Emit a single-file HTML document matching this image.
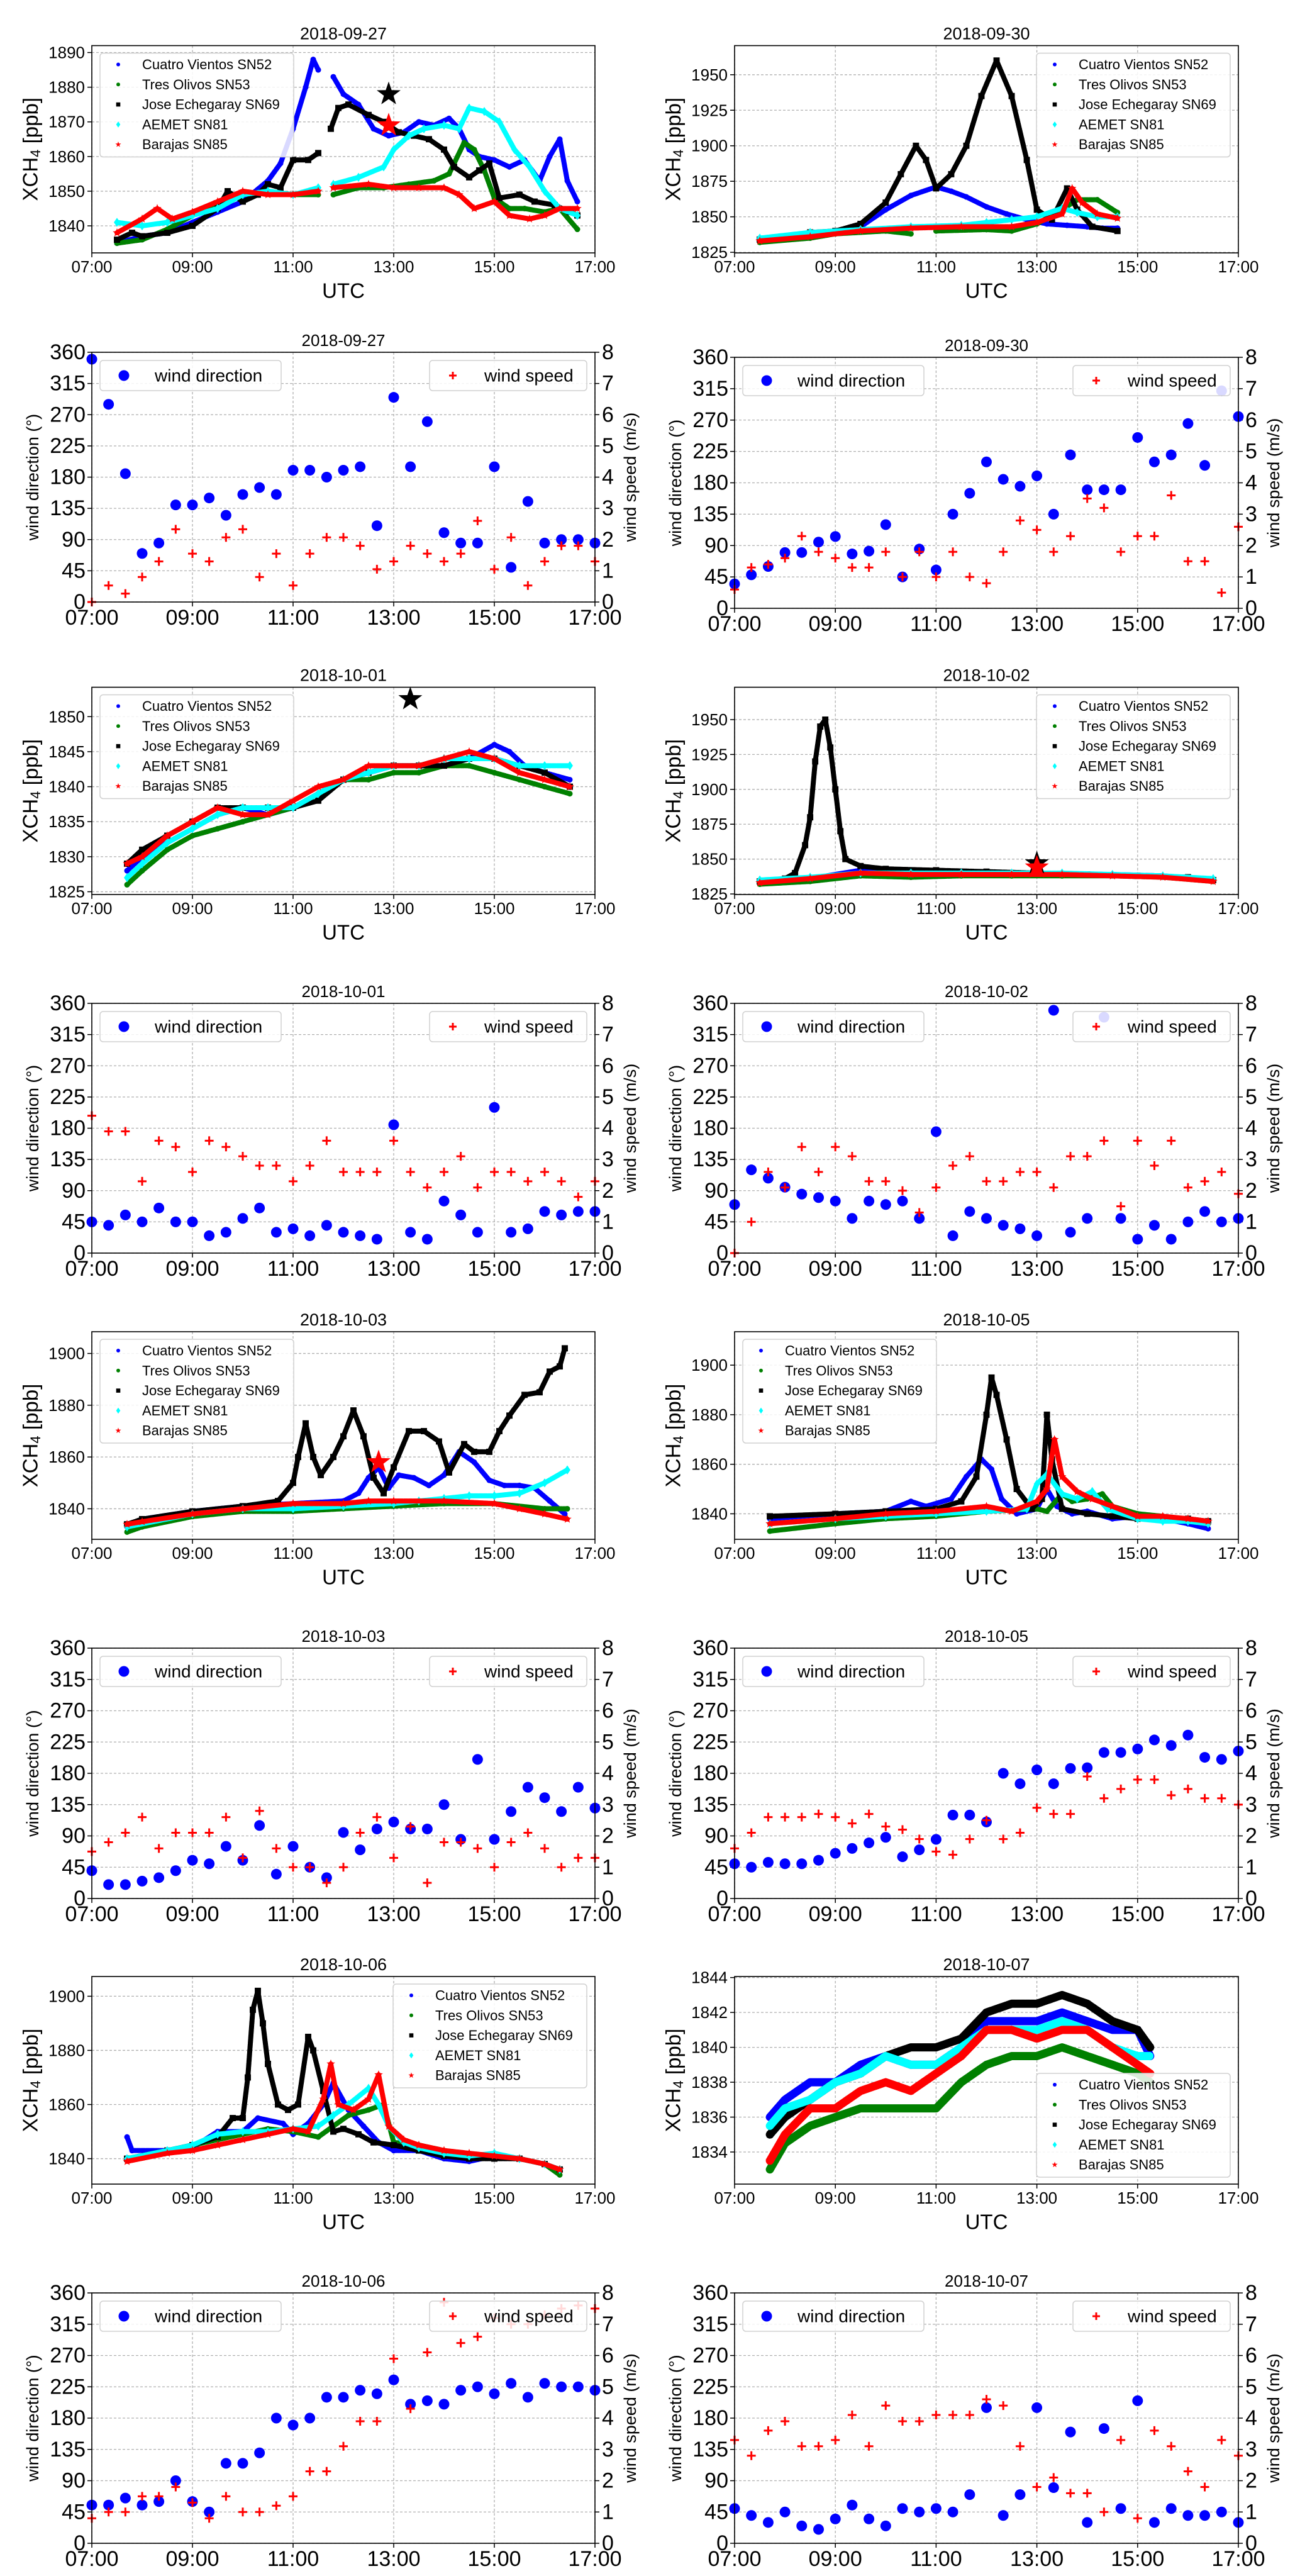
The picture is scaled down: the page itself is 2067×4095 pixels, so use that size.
<!DOCTYPE html>
<html><head><meta charset="utf-8"><style>
html,body{margin:0;padding:0;background:#fff;}
svg{display:block;font-family:"Liberation Sans","DejaVu Sans",sans-serif;}
</style></head><body>
<svg id="fig" width="2067" height="4095" viewBox="0 0 2067 4095" xmlns="http://www.w3.org/2000/svg"></svg>
<script>
// ---------- wind data (20-min steps from 07:00 to 17:00) ----------
const windTimes = [7,7.333,7.667,8,8.333,8.667,9,9.333,9.667,10,10.333,10.667,11,11.333,11.667,12,12.333,12.667,13,13.333,13.667,14,14.333,14.667,15,15.333,15.667,16,16.333,16.667,17];
const dir_0927 = [350,285,185,70,85,140,140,150,125,155,165,155,190,190,180,190,195,110,295,195,260,100,85,85,195,50,145,85,90,90,85];
const spd_0927 = [0,0.53,0.27,0.8,1.3,2.33,1.55,1.3,2.07,2.33,0.8,1.55,0.53,1.55,2.07,2.07,1.8,1.05,1.3,1.8,1.55,1.3,1.55,2.6,1.05,2.07,0.53,1.3,1.8,1.8,1.3];
const dir_0930 = [35,48,60,80,80,95,103,78,82,120,45,85,55,135,165,210,185,175,190,135,220,170,170,170,245,210,220,265,205,312,275];
const spd_0930 = [0.6,1.3,1.4,1.6,2.3,1.8,1.6,1.3,1.3,1.8,1.0,1.8,1.0,1.8,1.0,0.8,1.8,2.8,2.5,1.8,2.3,3.5,3.2,1.8,2.3,2.3,3.6,1.5,1.5,0.5,2.6];
const dir_1001 = [45,40,55,45,65,45,45,25,30,50,65,30,35,25,40,30,25,20,185,30,20,75,55,30,210,30,35,60,55,60,60];
const spd_1001 = [4.4,3.9,3.9,2.3,3.6,3.4,2.6,3.6,3.4,3.1,2.8,2.8,2.3,2.8,3.6,2.6,2.6,2.6,3.6,2.6,2.1,2.6,3.1,2.1,2.6,2.6,2.3,2.6,2.3,1.8,2.3];
const dir_1002 = [70,120,108,95,85,80,75,50,75,70,75,50,175,25,60,50,40,35,25,350,30,50,340,50,20,40,20,45,60,45,50];
const spd_1002 = [0,1.0,2.6,2.1,3.4,2.6,3.4,3.1,2.3,2.3,2.0,1.3,2.1,2.8,3.1,2.3,2.3,2.6,2.6,2.1,3.1,3.1,3.6,1.5,3.6,2.8,3.6,2.1,2.3,2.6,1.9];
const dir_1003 = [40,20,20,25,30,40,55,50,75,55,105,35,75,45,30,95,70,100,110,100,100,135,85,200,85,125,160,145,125,160,130];
const spd_1003 = [1.5,1.8,2.1,2.6,1.6,2.1,2.1,2.1,2.6,1.3,2.8,1.6,1.0,1.0,0.5,1.0,2.1,2.6,1.3,2.3,0.5,1.8,1.8,1.6,1.0,1.8,2.1,1.6,1.0,1.3,1.3];
const dir_1005 = [50,45,52,50,50,55,65,72,80,88,60,70,85,120,120,110,180,165,185,165,187,188,210,210,215,228,220,235,203,200,212];
const spd_1005 = [1.6,2.1,2.6,2.6,2.6,2.7,2.6,2.4,2.7,2.3,2.2,1.9,1.5,1.4,1.9,2.5,1.9,2.1,2.9,2.7,2.7,3.9,3.2,3.5,3.8,3.8,3.3,3.5,3.2,3.2,3.0];
const dir_1006 = [55,55,65,55,60,90,60,45,115,115,130,180,170,180,210,210,220,215,235,200,205,200,220,225,215,230,210,230,225,225,220];
const spd_1006 = [0.8,1.0,1.0,1.5,1.5,1.8,1.3,0.8,1.5,1.0,1.0,1.2,1.5,2.3,2.3,3.1,3.9,3.9,5.9,4.3,6.1,7.7,6.4,6.6,7.2,7.0,7.0,7.3,7.5,7.6,7.5];
const dir_1007 = [50,40,30,45,25,20,35,55,35,25,50,45,50,45,70,195,40,70,195,80,160,30,165,50,205,30,50,40,40,45,30];
const spd_1007 = [3.3,2.8,3.6,3.9,3.1,3.1,3.3,4.1,3.1,4.4,3.9,3.9,4.1,4.1,4.1,4.6,4.4,3.1,1.8,2.1,1.6,1.6,1.0,3.3,0.8,3.6,3.1,2.3,1.8,3.3,2.8];

// ---------- XCH4 data: [hour UTC, ppb]; null = gap ----------
const cv_0927 = [[7.5,1835],[8,1837],[8.5,1838],[9,1841],[9.5,1844],[10,1847],[10.5,1853],[10.75,1858],[11,1868],[11.25,1880],[11.4,1888],[11.5,1885],null,[11.8,1883],[12,1878],[12.3,1875],[12.6,1868],[12.9,1866],[13.2,1867],[13.5,1870],[13.8,1869],[14.1,1871],[14.3,1868],[14.5,1862],[14.7,1860],[15,1859],[15.3,1857],[15.6,1859],[15.9,1853],[16.1,1860],[16.3,1865],[16.45,1853],[16.65,1847]];
const to_0927 = [[7.5,1835],[8,1836],[8.5,1839],[9,1843],[9.5,1846],[10,1849],[10.5,1850],[11,1849],[11.5,1849],null,[11.8,1849],[12.3,1851],[12.8,1851],[13.3,1852],[13.8,1853],[14.1,1855],[14.4,1864],[14.6,1862],[14.8,1856],[15,1848],[15.3,1845],[15.6,1845],[16,1844],[16.3,1845],[16.65,1839]];
const je_0927 = [[7.5,1836],[7.8,1838],[8,1837],[8.5,1838],[9,1840],[9.5,1845],[9.7,1850],[10,1847],[10.3,1849],[10.5,1852],[10.75,1851],[11,1859],[11.3,1859],[11.5,1861],null,[11.75,1868],[11.9,1874],[12.1,1875],[12.5,1872],[12.8,1870],[13.1,1867],[13.4,1866],[13.7,1865],[14,1862],[14.2,1857],[14.5,1854],[14.7,1856],[14.9,1858],[15.1,1848],[15.5,1849],[15.8,1847],[16.2,1846],[16.5,1844],[16.65,1843]];
const ae_0927 = [[7.5,1841],[8,1840],[8.5,1841],[9,1843],[9.5,1845],[10,1849],[10.5,1850],[11,1849],[11.5,1851],null,[11.8,1852],[12.3,1854],[12.8,1857],[13,1862],[13.3,1866],[13.6,1868],[14,1869],[14.3,1868],[14.5,1874],[14.8,1873],[15.1,1870],[15.4,1862],[15.7,1857],[16,1850],[16.3,1845],[16.65,1843]];
const ba_0927 = [[7.5,1838],[8,1842],[8.3,1845],[8.6,1842],[9,1844],[9.5,1847],[10,1850],[10.5,1849],[11,1849],[11.5,1850],null,[11.8,1851],[12.5,1852],[13,1851],[13.5,1851],[14,1851],[14.3,1849],[14.6,1845],[15,1847],[15.3,1843],[15.7,1842],[16,1843],[16.3,1845],[16.65,1845]];

const cv_0930 = [[7.5,1834],[8.5,1838],[9,1840],[9.5,1843],[10,1855],[10.5,1865],[11,1871],[11.3,1868],[11.6,1864],[12,1857],[12.4,1852],[12.8,1848],[13.2,1845],[13.6,1844],[14,1843],[14.3,1842],[14.6,1842]];
const to_0930 = [[7.5,1832],[8.5,1835],[9,1838],[10,1840],[10.5,1838],null,[11,1840],[12,1841],[12.5,1840],[13,1845],[13.5,1855],[13.8,1862],[14.2,1862],[14.6,1853]];
const je_0930 = [[7.5,1834],[8,1836],[8.5,1839],[9,1840],[9.5,1845],[10,1860],[10.3,1880],[10.6,1900],[10.8,1890],[11,1870],[11.3,1880],[11.6,1900],[11.9,1935],[12.2,1960],[12.5,1935],[12.8,1890],[13,1855],[13.3,1848],[13.6,1870],[13.8,1855],[14.1,1843],[14.6,1840]];
const ae_0930 = [[7.5,1835],[8.5,1839],[9.5,1841],[10.5,1843],[11.5,1844],[12,1846],[12.5,1848],[13,1850],[13.5,1856],[13.8,1853],[14.2,1850],[14.6,1850]];
const ba_0930 = [[7.5,1833],[8.5,1836],[9.5,1840],[10.5,1842],[11.5,1843],[12.5,1843],[13,1846],[13.5,1852],[13.7,1870],[13.9,1860],[14.2,1852],[14.6,1849]];

const cv_1001 = [[7.7,1828],[8,1830],[8.5,1832],[9,1834],[9.5,1836],[10,1837],[10.5,1836],[11,1837],[11.5,1839],[12,1841],[12.5,1842],[13,1843],[13.5,1843],[14,1843],[14.5,1844],[15,1846],[15.3,1845],[15.6,1843],[16,1842],[16.5,1841]];
const to_1001 = [[7.7,1826],[8,1828],[8.5,1831],[9,1833],[9.5,1834],[10,1835],[10.5,1836],[11,1837],[11.5,1839],[12,1841],[12.5,1841],[13,1842],[13.5,1842],[14,1843],[14.5,1843],[15,1842],[15.5,1841],[16,1840],[16.5,1839]];
const je_1001 = [[7.7,1829],[8,1831],[8.5,1833],[9,1835],[9.5,1837],[10,1837],[10.5,1837],[11,1837],[11.5,1838],[12,1841],[12.5,1842],[13,1843],[13.5,1843],[14,1843],[14.5,1844],[15,1844],[15.5,1843],[16,1842],[16.5,1840]];
const ae_1001 = [[7.7,1827],[8,1829],[8.5,1832],[9,1834],[9.5,1836],[10,1837],[10.5,1837],[11,1837],[11.5,1839],[12,1841],[12.5,1842],[13,1843],[13.5,1843],[14,1844],[14.5,1844],[15,1844],[15.5,1843],[16,1843],[16.5,1843]];
const ba_1001 = [[7.7,1829],[8,1830],[8.5,1833],[9,1835],[9.5,1837],[10,1836],[10.5,1836],[11,1838],[11.5,1840],[12,1841],[12.5,1843],[13,1843],[13.5,1843],[14,1844],[14.5,1845],[15,1844],[15.5,1842],[16,1841],[16.5,1840]];

const cv_1002 = [[7.5,1834],[8.5,1836],[9.5,1842],[10.5,1842],[11.5,1841],[12.5,1840],[13.5,1839],[14.5,1839],[15.5,1838],[16.5,1835]];
const to_1002 = [[7.5,1832],[8.5,1834],[9.5,1838],[10.5,1837],[11.5,1838],[12.5,1838],[13.5,1838],[14.5,1838],[15.5,1837],[16.5,1834]];
const je_1002 = [[7.5,1834],[8,1836],[8.2,1840],[8.4,1860],[8.5,1880],[8.6,1920],[8.7,1945],[8.8,1950],[8.9,1930],[9,1900],[9.1,1870],[9.2,1850],[9.5,1845],[10,1843],[11,1842],[12,1841],[13,1840],[14,1839],[15,1838],[16,1837],[16.5,1835]];
const ae_1002 = [[7.5,1835],[8.5,1837],[9.5,1840],[10.5,1840],[11.5,1840],[12.5,1840],[13.5,1840],[14.5,1839],[15.5,1838],[16.5,1836]];
const ba_1002 = [[7.5,1833],[8.5,1836],[9.5,1840],[10.5,1839],[11.5,1839],[12.5,1839],[13.5,1839],[14.5,1838],[15.5,1837],[16.5,1834]];

const cv_1003 = [[7.7,1833],[8,1836],[9,1839],[10,1841],[11,1842],[12,1843],[12.3,1846],[12.5,1852],[12.7,1856],[12.9,1848],[13.1,1853],[13.4,1852],[13.7,1849],[14,1853],[14.3,1862],[14.6,1858],[14.9,1851],[15.2,1849],[15.5,1849],[15.8,1848],[16.1,1843],[16.4,1838]];
const to_1003 = [[7.7,1831],[8,1833],[9,1837],[10,1839],[11,1839],[12,1840],[13,1841],[14,1842],[15,1842],[16,1840],[16.45,1840]];
const je_1003 = [[7.7,1834],[8,1836],[9,1839],[10,1841],[10.7,1843],[11,1850],[11.1,1860],[11.25,1873],[11.4,1860],[11.55,1853],[11.8,1860],[12,1868],[12.2,1878],[12.4,1868],[12.6,1852],[12.8,1846],[13,1856],[13.3,1870],[13.6,1870],[13.9,1866],[14.1,1854],[14.4,1865],[14.6,1862],[14.9,1862],[15.1,1870],[15.3,1876],[15.6,1884],[15.9,1885],[16.1,1893],[16.3,1895],[16.4,1902]];
const ae_1003 = [[7.7,1833],[9,1838],[10,1840],[11,1840],[12,1841],[13,1842],[13.5,1843],[14,1844],[14.5,1845],[15,1845],[15.5,1846],[16,1850],[16.45,1855]];
const ba_1003 = [[7.7,1834],[8,1835],[9,1838],[10,1840],[11,1842],[12,1842],[12.5,1843],[13,1843],[14,1843],[15,1842],[15.5,1840],[16,1838],[16.45,1836]];

const cv_1005 = [[7.7,1838],[9,1840],[10,1841],[10.5,1845],[10.8,1843],[11.3,1846],[11.6,1855],[11.9,1862],[12.1,1858],[12.3,1846],[12.6,1840],[13,1842],[13.2,1850],[13.4,1843],[13.7,1840],[14,1841],[14.5,1838],[15,1839],[15.5,1838],[16,1836],[16.4,1834]];
const to_1005 = [[7.7,1833],[9,1836],[10,1838],[11,1839],[12,1841],[13,1842],[13.2,1841],[13.5,1848],[13.7,1845],[14,1846],[14.3,1848],[14.5,1843],[15,1840],[15.5,1839],[16,1837],[16.4,1836]];
const je_1005 = [[7.7,1839],[9,1840],[10,1841],[11,1842],[11.5,1845],[11.8,1855],[12,1880],[12.1,1895],[12.2,1888],[12.4,1870],[12.6,1850],[12.9,1842],[13.1,1846],[13.2,1880],[13.3,1862],[13.5,1842],[14,1840],[14.5,1839],[15,1838],[15.5,1838],[16,1838],[16.4,1837]];
const ae_1005 = [[7.7,1836],[9,1838],[10,1839],[11,1840],[12,1841],[12.8,1842],[13,1852],[13.2,1856],[13.5,1848],[13.8,1846],[14.1,1849],[14.4,1842],[15,1838],[15.5,1837],[16,1837],[16.4,1836]];
const ba_1005 = [[7.7,1836],[9,1838],[10,1840],[11,1841],[12,1843],[12.5,1841],[13,1845],[13.2,1850],[13.35,1870],[13.5,1855],[13.8,1849],[14.1,1846],[14.5,1843],[15,1839],[15.5,1839],[16,1838],[16.4,1837]];

const cv_1006 = [[7.7,1848],[7.8,1843],[8.5,1843],[9,1844],[9.5,1850],[10,1850],[10.3,1855],[10.8,1853],[11,1849],[11.3,1853],[11.6,1860],[11.8,1868],[12.1,1858],[12.4,1852],[12.7,1846],[13,1843],[13.5,1843],[14,1840],[14.5,1839],[15,1841],[15.5,1840],[16,1838],[16.3,1836]];
const to_1006 = [[7.7,1840],[8.5,1843],[9,1845],[9.5,1847],[10,1849],[10.5,1851],[11,1850],[11.5,1848],[11.8,1852],[12.1,1856],[12.5,1858],[12.8,1860],[13,1846],[13.5,1845],[14,1843],[14.5,1841],[15,1841],[15.5,1840],[16,1838],[16.3,1834]];
const je_1006 = [[7.7,1840],[8.5,1843],[9,1845],[9.5,1848],[9.8,1855],[10,1855],[10.1,1870],[10.2,1895],[10.3,1902],[10.4,1890],[10.5,1875],[10.7,1860],[10.9,1858],[11.1,1860],[11.3,1885],[11.4,1880],[11.6,1865],[11.8,1850],[12,1851],[12.3,1849],[12.6,1846],[13,1845],[13.5,1843],[14,1841],[14.5,1840],[15,1840],[15.5,1840],[16,1838],[16.3,1836]];
const ae_1006 = [[7.7,1840],[8.5,1843],[9,1845],[9.5,1849],[10,1850],[10.5,1850],[11,1851],[11.5,1852],[11.8,1856],[12.1,1860],[12.5,1866],[12.7,1860],[12.9,1852],[13.2,1846],[13.5,1844],[14,1842],[14.5,1841],[15,1842],[15.5,1840],[16,1838],[16.3,1836]];
const ba_1006 = [[7.7,1839],[8.5,1842],[9,1843],[9.5,1845],[10,1847],[10.5,1849],[11,1851],[11.3,1850],[11.6,1862],[11.75,1875],[11.9,1860],[12.2,1858],[12.5,1862],[12.7,1871],[12.9,1852],[13.2,1847],[13.5,1845],[14,1843],[14.5,1842],[15,1841],[15.5,1840],[16,1838],[16.3,1836]];

const cv_1007 = [[7.7,1836],[8,1837],[8.5,1838],[9,1838],[9.5,1839],[10,1839.5],[10.5,1839],[11,1839],[11.5,1840],[12,1841.5],[12.5,1841.5],[13,1841.5],[13.5,1842],[14,1841.5],[14.5,1841],[15,1841],[15.25,1839.5]];
const to_1007 = [[7.7,1833],[8,1834.5],[8.5,1835.5],[9,1836],[9.5,1836.5],[10,1836.5],[10.5,1836.5],[11,1836.5],[11.5,1838],[12,1839],[12.5,1839.5],[13,1839.5],[13.5,1840],[14,1839.5],[14.5,1839],[15,1838.5],[15.25,1838]];
const je_1007 = [[7.7,1835],[8,1836],[8.5,1837],[9,1838],[9.5,1838.5],[10,1839.5],[10.5,1840],[11,1840],[11.5,1840.5],[12,1842],[12.5,1842.5],[13,1842.5],[13.5,1843],[14,1842.5],[14.5,1841.5],[15,1841],[15.25,1840]];
const ae_1007 = [[7.7,1835.5],[8,1836.5],[8.5,1837],[9,1838],[9.5,1838.5],[10,1839.5],[10.5,1839],[11,1839],[11.5,1840],[12,1841],[12.5,1841],[13,1841],[13.5,1841.5],[14,1841],[14.5,1840],[15,1839.5],[15.25,1839.5]];
const ba_1007 = [[7.7,1833.5],[8,1835],[8.5,1836.5],[9,1836.5],[9.5,1837.5],[10,1838],[10.5,1837.5],[11,1838.5],[11.5,1839.5],[12,1841],[12.5,1841],[13,1840.5],[13.5,1841],[14,1841],[14.5,1840],[15,1839],[15.25,1838.5]];

// stars: [hour, ppb, colour]
const stars_0927 = [[12.9,1878,'#000'],[12.9,1869,'#f00']];
const stars_1001 = [[13.33,1852.5,'#000']];
const stars_1002 = [[13.0,1847,'#000'],[13.0,1844,'#f00']];
const stars_1003 = [[12.7,1858,'#f00']];

const xTickLabels = ['07:00','09:00','11:00','13:00','15:00','17:00'];
const xTickHours = [7,9,11,13,15,17];
const dirTicks = [0,45,90,135,180,225,270,315,360];
const spdTicks = [0,1,2,3,4,5,6,7,8];
const stationNames = ['Cuatro Vientos SN52','Tres Olivos SN53','Jose Echegaray SN69','AEMET SN81','Barajas SN85'];

// ---------- layout ----------
const LX = [146,946], RX = [1168,1969];
const ch4Panels = [
 {day:'2018-09-27', xr:LX, yr:[72.5,402], ylim:[1832.2,1892], ticks:[1840,1850,1860,1870,1880,1890], s:[cv_0927,to_0927,je_0927,ae_0927,ba_0927], stars:stars_0927, leg:'tl'},
 {day:'2018-09-30', xr:RX, yr:[72.5,402], ylim:[1824.6,1970.5], ticks:[1825,1850,1875,1900,1925,1950], s:[cv_0930,to_0930,je_0930,ae_0930,ba_0930], stars:[], leg:'tr'},
 {day:'2018-10-01', xr:LX, yr:[1092.5,1422], ylim:[1824.6,1854.2], ticks:[1825,1830,1835,1840,1845,1850], s:[cv_1001,to_1001,je_1001,ae_1001,ba_1001], stars:stars_1001, leg:'tl'},
 {day:'2018-10-02', xr:RX, yr:[1092.5,1422], ylim:[1824.6,1973.2], ticks:[1825,1850,1875,1900,1925,1950], s:[cv_1002,to_1002,je_1002,ae_1002,ba_1002], stars:stars_1002, leg:'tr'},
 {day:'2018-10-03', xr:LX, yr:[2117,2447], ylim:[1828.2,1908.4], ticks:[1840,1860,1880,1900], s:[cv_1003,to_1003,je_1003,ae_1003,ba_1003], stars:stars_1003, leg:'tl'},
 {day:'2018-10-05', xr:RX, yr:[2117,2447], ylim:[1829.7,1913.5], ticks:[1840,1860,1880,1900], s:[cv_1005,to_1005,je_1005,ae_1005,ba_1005], stars:[], leg:'tl'},
 {day:'2018-10-06', xr:LX, yr:[3142,3472], ylim:[1830.6,1907.3], ticks:[1840,1860,1880,1900], s:[cv_1006,to_1006,je_1006,ae_1006,ba_1006], stars:[], leg:'tr'},
 {day:'2018-10-07', xr:RX, yr:[3142,3472], ylim:[1832.16,1844.06], ticks:[1834,1836,1838,1840,1842,1844], s:[cv_1007,to_1007,je_1007,ae_1007,ba_1007], stars:[], leg:'br'}
];
const windPanels = [
 {day:'2018-09-27', xr:LX, yr:[560,957], d:dir_0927, v:spd_0927},
 {day:'2018-09-30', xr:RX, yr:[568,967], d:dir_0930, v:spd_0930},
 {day:'2018-10-01', xr:LX, yr:[1595,1992], d:dir_1001, v:spd_1001},
 {day:'2018-10-02', xr:RX, yr:[1595,1992], d:dir_1002, v:spd_1002},
 {day:'2018-10-03', xr:LX, yr:[2620,3018], d:dir_1003, v:spd_1003},
 {day:'2018-10-05', xr:RX, yr:[2620,3018], d:dir_1005, v:spd_1005},
 {day:'2018-10-06', xr:LX, yr:[3645,4043], d:dir_1006, v:spd_1006},
 {day:'2018-10-07', xr:RX, yr:[3645,4043], d:dir_1007, v:spd_1007}
];
const COLORS = ['#0000ff','#008000','#000000','#00ffff','#ff0000'];

const NS = 'http://www.w3.org/2000/svg';
const svg = document.getElementById('fig');
function mk(tag, attrs, parent){
  const e = document.createElementNS(NS, tag);
  for (const k in attrs) e.setAttribute(k, attrs[k]);
  (parent||svg).appendChild(e);
  return e;
}
function txt(s, attrs, parent){ const t = mk('text', attrs, parent); t.textContent = s; return t; }
function starPts(cx, cy, R){
  const r = R*0.4, p = [];
  for (let i=0;i<10;i++){ const a = -Math.PI/2 + i*Math.PI/5; const rr = i%2?r:R; p.push((cx+rr*Math.cos(a)).toFixed(1)+','+(cy+rr*Math.sin(a)).toFixed(1)); }
  return p.join(' ');
}
function marker(g, i, x, y, s){
  let m;
  if (i===0||i===1) m = mk('circle',{cx:x,cy:y,r:s*0.5,fill:COLORS[i]},g);
  else if (i===2) m = mk('rect',{x:x-s*0.55,y:y-s*0.55,width:s*1.1,height:s*1.1,fill:COLORS[i]},g);
  else if (i===3) m = mk('polygon',{points:`${x},${y-s*0.8} ${x+s*0.55},${y} ${x},${y+s*0.8} ${x-s*0.55},${y}`,fill:COLORS[i]},g);
  else m = mk('polygon',{points:starPts(x,y,s*0.8),fill:COLORS[i]},g);
  return m;
}
function frame(g, x0,x1,y0,y1, xFn){
  xTickHours.forEach(h=>{ const x = xFn(h);
    const gl = mk('line',{x1:x,x2:x,y1:y0,y2:y1,stroke:'#b0b0b0','stroke-width':1.3,'stroke-dasharray':'4,3'},g);
     
  });
}

// ---------- CH4 panels ----------
ch4Panels.forEach((p,pi)=>{
  const [x0,x1]=p.xr, [y0,y1]=p.yr;
  const g = mk('g',{});
  
  
  const X = h => x0 + (h-7)/10*(x1-x0);
  const Y = v => y1 - (v-p.ylim[0])/(p.ylim[1]-p.ylim[0])*(y1-y0);
  frame(g,x0,x1,y0,y1,X);
  p.ticks.forEach(v=>{ const y=Y(v);
    const gl = mk('line',{x1:x0,x2:x1,y1:y,y2:y,stroke:'#b0b0b0','stroke-width':1.3,'stroke-dasharray':'4,3'},g);
     
    mk('line',{x1:x0-7,x2:x0,y1:y,y2:y,stroke:'#000','stroke-width':1.5},g);
    const t = txt(String(v),{x:x0-11,y:y,'font-size':26,'text-anchor':'end','dominant-baseline':'central'},g);
     
  });
  p.s.forEach((ser,si)=>{
    const sg = mk('g',{},g);
    
    
    let seg=[];
    const sw = p.day==='2018-10-07'?13:8;
    const flush=()=>{ if(seg.length>1){
        const pl = mk('polyline',{points:seg.join(' '),fill:'none',stroke:COLORS[si],'stroke-width':sw,'stroke-linejoin':'round','stroke-linecap':'round','stroke-dasharray':'6,1.5'},sg);
         
      } seg=[]; };
    ser.forEach(pt=>{ if(pt===null){flush();return;} seg.push(X(pt[0]).toFixed(1)+','+Y(pt[1]).toFixed(1)); });
    flush();
    ser.forEach(pt=>{ if(pt===null) return; const m = marker(sg, si, X(pt[0]), Y(pt[1]), 9);
        });
  });
  p.stars.forEach(st=>{
    const s = mk('polygon',{points:starPts(X(st[0]),Y(st[1]),20),fill:st[2]},g);
     
  });
  const box = mk('rect',{x:x0,y:y0,width:x1-x0,height:y1-y0,fill:'none',stroke:'#000','stroke-width':1.6},g);
   
  xTickHours.forEach((h,i)=>{ const x=X(h);
    mk('line',{x1:x,x2:x,y1:y1,y2:y1+7,stroke:'#000','stroke-width':1.5},g);
    const t = txt(xTickLabels[i],{x:x,y:y1+22,'font-size':26,'text-anchor':'middle','dominant-baseline':'central'},g);
     
  });
  const xl = txt('UTC',{x:(x0+x1)/2,y:y1+60,'font-size':33,'text-anchor':'middle','dominant-baseline':'central'},g);
   
  const yl = mk('text',{x:0,y:0,'font-size':33,'text-anchor':'middle','dominant-baseline':'central',transform:`translate(${x0-98},${(y0+y1)/2}) rotate(-90)`},g);
   
  yl.innerHTML = 'XCH<tspan font-size="22" dy="8">4</tspan><tspan dy="-8"> [ppb]</tspan>';
  const tt = txt(p.day,{x:(x0+x1)/2,y:y0-19,'font-size':27,'text-anchor':'middle','dominant-baseline':'central'},g);
   
  const LW=308, LH=165;
  let lx = p.leg==='tl'? x0+13 : x1-13-LW;
  let ly = p.leg==='br'? y1-11-LH : y0+12;
  const lg = mk('g',{},g);
   
  mk('rect',{x:lx,y:ly,width:LW,height:LH,rx:5,fill:'#fff','fill-opacity':0.85,stroke:'#d0d0d0','stroke-width':1.5},lg);
  stationNames.forEach((nm,i)=>{
    const ey = ly+18+i*31.8;
    const e = mk('g',{},lg);
     
    marker(e,i,lx+29,ey,6);
    txt(nm,{x:lx+67,y:ey,'font-size':22,'dominant-baseline':'central'},e);
  });
});

// ---------- wind panels ----------
windPanels.forEach(p=>{
  const [x0,x1]=p.xr, [y0,y1]=p.yr;
  const g = mk('g',{});
  
  
  const X = h => x0 + (h-7)/10*(x1-x0);
  const YD = v => y1 - v/360*(y1-y0);
  const YS = v => y1 - v/8*(y1-y0);
  frame(g,x0,x1,y0,y1,X);
  dirTicks.forEach(v=>{ const y=YD(v);
    const gl = mk('line',{x1:x0,x2:x1,y1:y,y2:y,stroke:'#b0b0b0','stroke-width':1.3,'stroke-dasharray':'4,3'},g);
     
    mk('line',{x1:x0-7,x2:x0,y1:y,y2:y,stroke:'#000','stroke-width':1.5},g);
    const t = txt(String(v),{x:x0-10,y:y,'font-size':34,'text-anchor':'end','dominant-baseline':'central'},g);
     
  });
  spdTicks.forEach(v=>{ const y=YS(v);
    mk('line',{x1:x1,x2:x1+7,y1:y,y2:y,stroke:'#000','stroke-width':1.5},g);
    const t = txt(String(v),{x:x1+11,y:y,'font-size':34,'dominant-baseline':'central'},g);
     
  });
  windTimes.forEach((h,i)=>{
    const c = mk('circle',{cx:X(h),cy:YD(p.d[i]),r:8.5,fill:'#0000ff'},g);
     
  });
  windTimes.forEach((h,i)=>{
    const x=X(h), y=YS(p.v[i]);
    const pl = mk('path',{d:`M${x-7},${y}H${x+7}M${x},${y-7}V${y+7}`,stroke:'#ff0000','stroke-width':3,fill:'none'},g);
     
  });
  const box = mk('rect',{x:x0,y:y0,width:x1-x0,height:y1-y0,fill:'none',stroke:'#000','stroke-width':1.6},g);
   
  xTickHours.forEach((h,i)=>{ const x=X(h);
    mk('line',{x1:x,x2:x,y1:y1,y2:y1+7,stroke:'#000','stroke-width':1.5},g);
    const t = txt(xTickLabels[i],{x:x,y:y1+25,'font-size':34,'text-anchor':'middle','dominant-baseline':'central'},g);
     
  });
  const yl = txt('wind direction (°)',{x:0,y:0,'font-size':27,'text-anchor':'middle','dominant-baseline':'central',transform:`translate(${x0-94},${(y0+y1)/2}) rotate(-90)`},g);
   
  const yr = txt('wind speed (m/s)',{x:0,y:0,'font-size':27,'text-anchor':'middle','dominant-baseline':'central',transform:`translate(${x1+56},${(y0+y1)/2}) rotate(-90)`},g);
   
  const tt = txt(p.day,{x:(x0+x1)/2,y:y0-19,'font-size':26,'text-anchor':'middle','dominant-baseline':'central'},g);
   
  const l1 = mk('g',{},g);
   
  mk('rect',{x:x0+13,y:y0+13,width:288,height:48,rx:5,fill:'#fff','fill-opacity':0.85,stroke:'#d0d0d0','stroke-width':1.5},l1);
  mk('circle',{cx:x0+51,cy:y0+37,r:8.5,fill:'#0000ff'},l1);
  txt('wind direction',{x:x0+100,y:y0+37,'font-size':28,'dominant-baseline':'central'},l1);
  const l2 = mk('g',{},g);
   
  mk('rect',{x:x1-13-250,y:y0+13,width:250,height:48,rx:5,fill:'#fff','fill-opacity':0.85,stroke:'#d0d0d0','stroke-width':1.5},l2);
  const lx=x1-226, ly=y0+37;
  mk('path',{d:`M${lx-6},${ly}H${lx+6}M${lx},${ly-6}V${ly+6}`,stroke:'#ff0000','stroke-width':3},l2);
  txt('wind speed',{x:x1-176,y:ly,'font-size':28,'dominant-baseline':'central'},l2);
});
</script>
</body></html>
